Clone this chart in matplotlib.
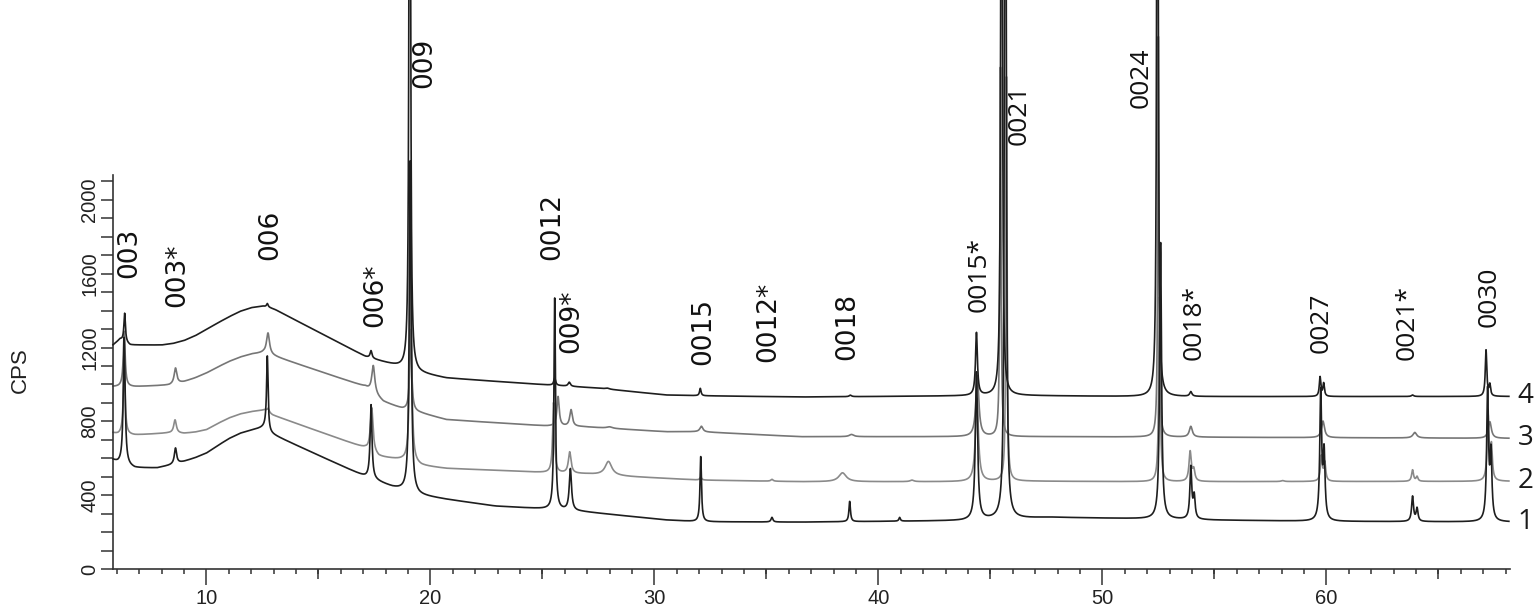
import numpy as np
import matplotlib
matplotlib.use("Agg")
import matplotlib.pyplot as plt
from matplotlib.ticker import MultipleLocator, FixedLocator

# ---------------- data ----------------
X_MIN, X_MAX = 5.83, 68.2
Y_MAX = 2135

# trace 1 (bottom, black)
t1_base_x = [5.83, 6.05, 6.8, 7.8, 8.35, 9.0, 9.5, 10.0, 10.5, 11.0, 11.5, 12.0, 12.65, 12.8,
             17.1, 17.6, 18.3, 19.5, 20.7, 22.9, 25.2, 26.8, 30.5, 32.0, 36.5, 43.75,
             47.6, 52.0, 55.0, 60.0, 68.15]
t1_base_y = [590, 575, 548, 548, 562, 583, 603, 628, 668, 706, 735, 752, 770, 738,
             500, 478, 444, 400, 378, 341, 325, 311, 266, 256, 254, 262,
             280, 272, 265, 258, 255]
t1_peak_pos = [6.33, 8.62, 12.72, 17.35, 19.10, 25.55, 26.25, 32.07, 35.25, 38.72, 40.95, 44.38,
               45.67, 52.60, 53.95, 54.10, 59.75, 59.90, 63.85, 64.05, 67.20, 67.35]
t1_peak_h = [690, 85, 400, 400, 1800, 1145, 225, 353, 25, 110, 20, 800,
             8000, 1500, 280, 120, 690, 350, 135, 70, 700, 350]
t1_peak_w = [0.05, 0.06, 0.04, 0.05, 0.05, 0.04, 0.06, 0.04, 0.05, 0.04, 0.04, 0.06,
             0.03, 0.05, 0.05, 0.05, 0.05, 0.05, 0.05, 0.05, 0.05, 0.05]

# trace 2 (grey)
t2_base_x = [5.83, 6.05, 6.8, 8.3, 9.0, 9.5, 10.0, 10.5, 11.0, 11.5, 12.0, 12.6, 12.95,
             17.1, 17.7, 18.75, 19.6, 20.7, 22.2, 25.2, 26.95, 29.0, 32.0, 36.5, 44.0,
             46.0, 52.0, 68.15]
t2_base_y = [737, 730, 726, 737, 735, 742, 755, 788, 818, 840, 853, 862, 835,
             655, 609, 590, 560, 545, 538, 522, 515, 500, 482, 473, 473,
             476, 473, 475]
t2_peak_pos = [6.33, 8.60, 12.75, 17.38, 19.12, 25.50, 26.22, 27.95, 32.07, 35.25, 38.40, 41.50,
               44.40, 45.72, 52.55, 53.92, 54.08, 58.05, 59.78, 59.93, 63.85, 64.05, 67.22, 67.37]
t2_peak_h = [370, 72, 20, 240, 1170, 380, 115, 75, 15, 10, 48, 8,
             450, 2200, 1000, 160, 60, 5, 135, 100, 62, 25, 350, 180]
t2_peak_w = [0.05, 0.07, 0.06, 0.07, 0.05, 0.05, 0.07, 0.18, 0.05, 0.06, 0.2, 0.1,
             0.08, 0.03, 0.04, 0.06, 0.06, 0.08, 0.05, 0.05, 0.05, 0.05, 0.05, 0.05]

# trace 3 (grey)
t3_base_x = [5.83, 6.8, 8.35, 9.0, 9.5, 10.0, 10.5, 11.0, 11.5, 12.0, 12.55, 13.1,
             17.1, 17.9, 18.75, 19.6, 20.7, 22.2, 25.2, 26.8, 30.5, 32.0, 36.5, 44.0,
             48.0, 68.15]
t3_base_y = [988, 988, 997, 1015, 1036, 1062, 1094, 1124, 1148, 1165, 1172, 1151,
             988, 907, 868, 845, 810, 798, 775, 771, 744, 744, 717, 717,
             717, 708]
t3_peak_pos = [6.33, 8.62, 12.75, 17.45, 19.12, 25.70, 26.28, 28.0, 32.10, 38.80, 44.42,
               45.45, 52.50, 53.95, 59.85, 63.95, 67.30]
t3_peak_h = [300, 85, 115, 150, 440, 160, 90, 8, 30, 12, 330,
             2000, 2180, 58, 90, 30, 90]
t3_peak_w = [0.05, 0.07, 0.08, 0.08, 0.05, 0.06, 0.07, 0.15, 0.08, 0.12, 0.08,
             0.03, 0.03, 0.08, 0.08, 0.1, 0.08]

# trace 4 (top, black)
t4_base_x = [5.83, 6.15, 6.6, 8.0, 8.5, 9.0, 9.5, 10.0, 10.5, 11.0, 11.5, 12.0, 12.5, 12.75,
             13.1, 17.1, 18.8, 19.5, 20.7, 23.1, 25.3, 27.5, 30.5, 32.0, 36.5, 43.8,
             46.0, 52.0, 68.15]
t4_base_y = [1214, 1245, 1214, 1214, 1222, 1238, 1264, 1298, 1333, 1366, 1396, 1416, 1425, 1420,
             1404, 1151, 1089, 1062, 1035, 1015, 997, 980, 943, 939, 932, 938,
             940, 934, 935]
t4_peak_pos = [6.35, 12.72, 17.35, 19.08, 25.55, 26.20, 27.90, 32.05, 38.75, 44.38,
               45.50, 52.46, 53.95, 59.72, 59.88, 63.85, 67.13, 67.30]
t4_peak_h = [155, 18, 40, 6000, 40, 22, 5, 40, 8, 340,
             6000, 6000, 25, 105, 70, 8, 250, 60]
t4_peak_w = [0.04, 0.04, 0.05, 0.03, 0.05, 0.06, 0.1, 0.04, 0.06, 0.05,
             0.03, 0.03, 0.06, 0.04, 0.04, 0.06, 0.04, 0.04]

series_names = ["1", "2", "3", "4"]

peak_labels = ["003", "003*", "006", "006*", "009", "0012", "009*", "0015", "0012*", "0018",
               "0015*", "0021", "0024", "0018*", "0027", "0021*", "0030"]
label_x = [6.56, 8.71, 12.86, 17.54, 19.73, 25.45, 26.29, 32.19, 35.09, 38.62,
           44.51, 46.29, 51.74, 54.11, 59.78, 63.62, 67.28]
label_y = [1577, 1420, 1675, 1312, 2607, 1675, 1171, 1106, 1122, 1133,
           1393, 2298, 2499, 1133, 1171, 1133, 1312]
label_font = ["DejaVu Sans"] * 10 + ["Open Sans"] * 7

x_major = [10, 20, 30, 40, 50, 60]
x_mid = [15, 25, 35, 45, 55, 65]

# ---------------- drawing ----------------
def pattern(bx, by, pos, h, w, grid):
    y = np.interp(grid, bx, by)
    for p, hh, ww in zip(pos, h, w):
        y = y + hh * ww ** 2 / ((grid - p) ** 2 + ww ** 2)
    return y

grid = np.arange(X_MIN, 68.15, 0.004)

fig = plt.figure(figsize=(15.35, 6.11), dpi=100)
ax = fig.add_axes([113 / 1535, 42 / 611, 1397 / 1535, 394 / 611])

traces = [
    (t2_base_x, t2_base_y, t2_peak_pos, t2_peak_h, t2_peak_w, "#8a8a8a", 2),
    (t3_base_x, t3_base_y, t3_peak_pos, t3_peak_h, t3_peak_w, "#767676", 2),
    (t1_base_x, t1_base_y, t1_peak_pos, t1_peak_h, t1_peak_w, "#1e1e1e", 3),
    (t4_base_x, t4_base_y, t4_peak_pos, t4_peak_h, t4_peak_w, "#1e1e1e", 3),
]
for bx, by, pos, h, w, col, z in traces:
    ax.plot(grid, pattern(bx, by, pos, h, w, grid), color=col, lw=1.2,
            clip_on=False, zorder=z)

# series labels on the right
for name, by in zip(series_names, [t1_base_y, t2_base_y, t3_base_y, t4_base_y]):
    ax.text(68.55, by[-1], name, fontsize=20, family="Open Sans", ha="left",
            va="center", color="#1a1a1a")

# reflection labels
for lab, lx, ly, ff in zip(peak_labels, label_x, label_y, label_font):
    ax.text(lx, ly, lab, rotation=90, ha="center", va="bottom", fontsize=19,
            family=ff, color="#111111", clip_on=False)

ax.set_xlim(X_MIN, X_MAX)
ax.set_ylim(0, Y_MAX)

for s in ["top", "right"]:
    ax.spines[s].set_visible(False)
for s in ["left", "bottom"]:
    ax.spines[s].set_linewidth(1.2)
    ax.spines[s].set_color("#333333")

ax.xaxis.set_major_locator(FixedLocator(x_major))
ax.xaxis.set_minor_locator(MultipleLocator(1))
ax.yaxis.set_major_locator(MultipleLocator(400))
ax.yaxis.set_minor_locator(MultipleLocator(100))

ax.tick_params(axis="x", which="major", length=11.5, width=1.1, color="#333333",
               labelsize=14.5, pad=3.0, labelcolor="#222222")
ax.tick_params(axis="x", which="minor", length=3.8, width=1.1, color="#333333")
ax.tick_params(axis="y", which="both", length=8.8, width=1.1, color="#333333")
ax.tick_params(axis="y", which="major", labelsize=14.5, pad=1.0, labelcolor="#222222",
               labelrotation=90)
for t in ax.get_xticklabels() + ax.get_yticklabels():
    t.set_family("Liberation Sans")
for t in ax.get_yticklabels():
    t.set_verticalalignment("center")

sec = ax.secondary_xaxis("bottom")
sec.set_xticks(x_mid)
sec.tick_params(length=7.0, width=1.1, color="#333333", labelbottom=False)
sec.spines["bottom"].set_visible(False)

fig.text(20 / 1535, 1 - 370 / 611, "CPS", rotation=90, ha="center", va="center",
         fontsize=16, family="Liberation Sans", color="#222222")

fig.savefig("out.png", dpi=100)
